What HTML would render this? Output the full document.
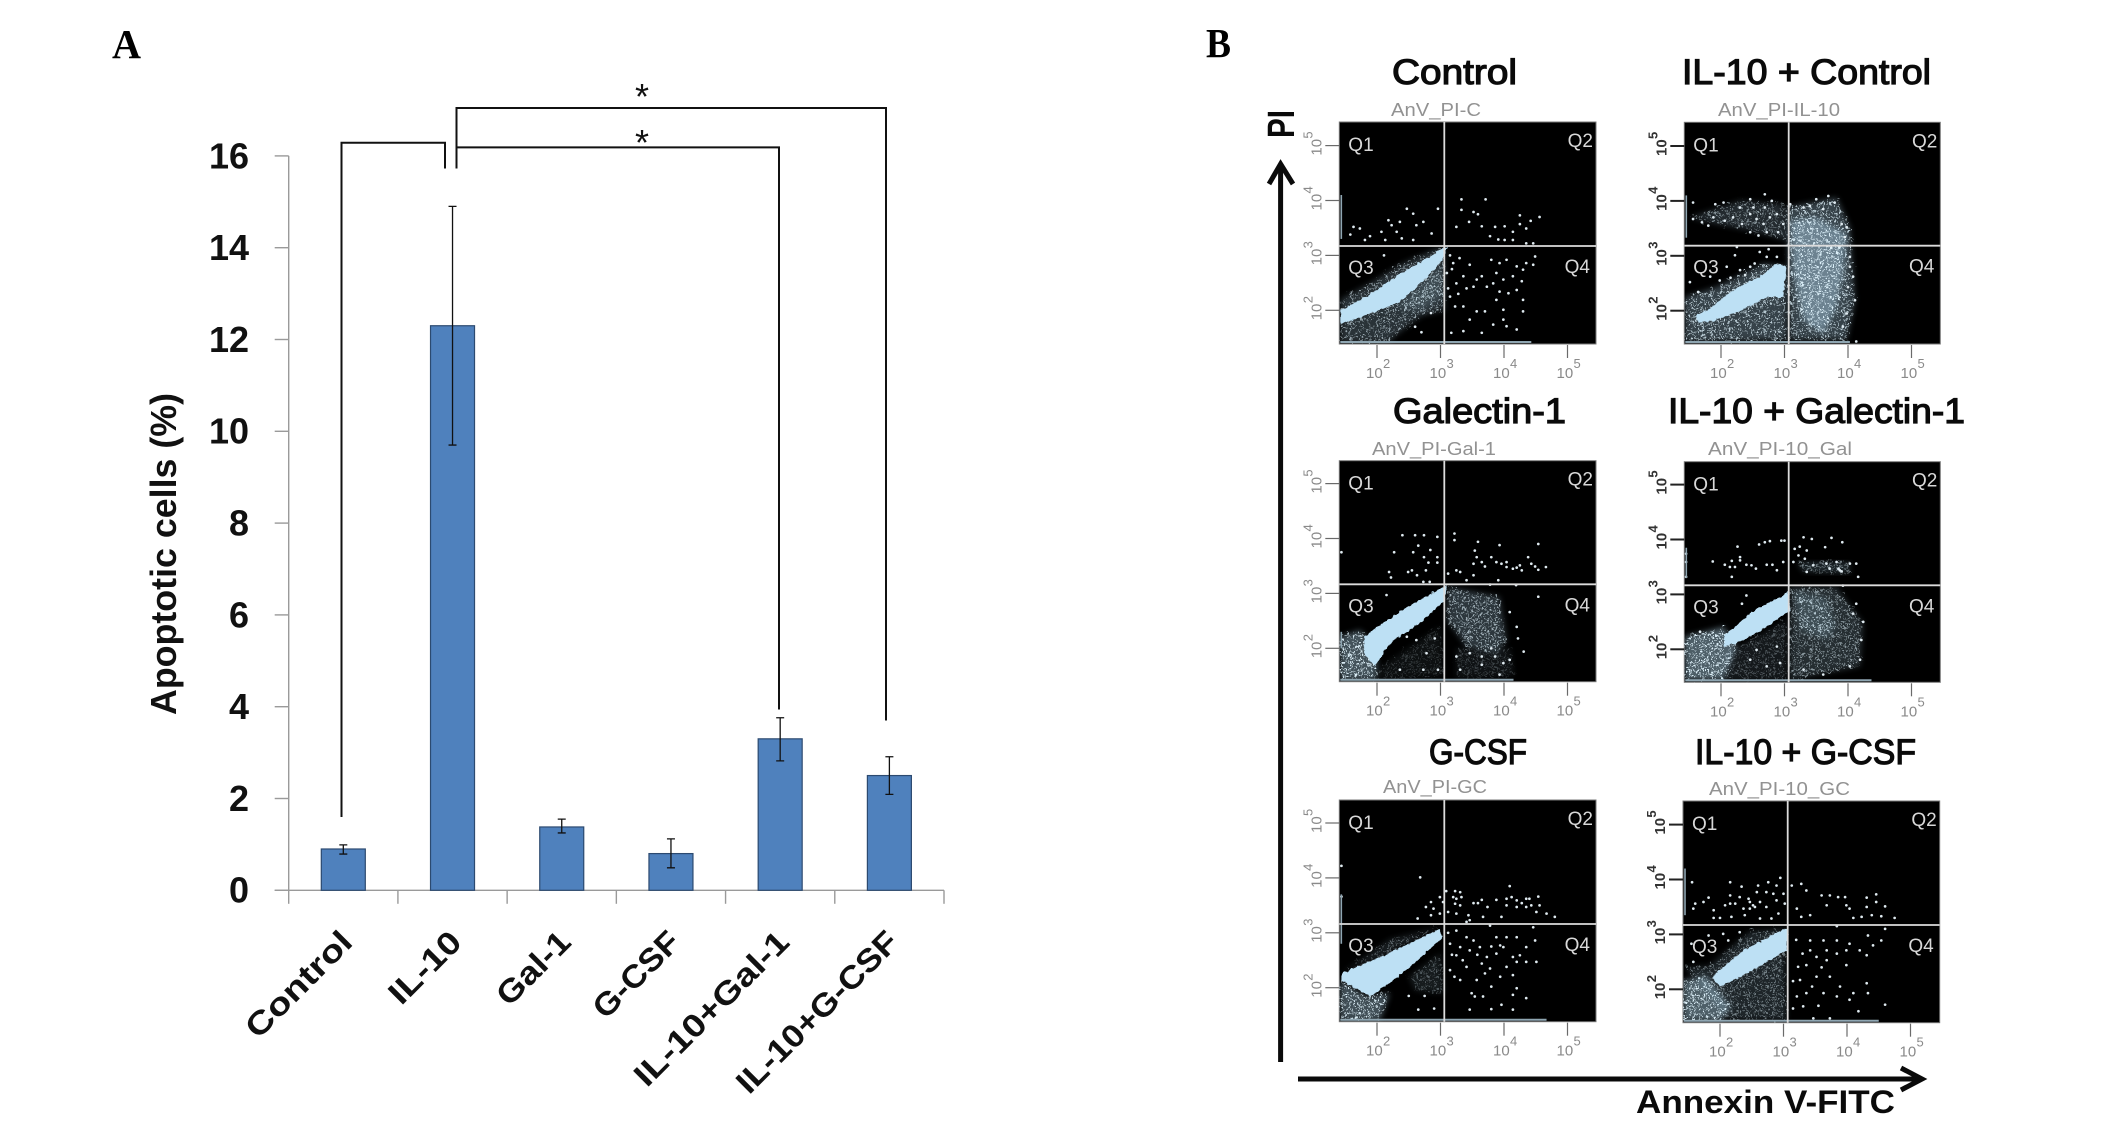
<!DOCTYPE html>
<html lang="en">
<head>
<meta charset="utf-8">
<title>Apoptotic cells and flow cytometry panels</title>
<style>
html,body{margin:0;padding:0;background:#fff;}
svg{display:block;}
text{font-family:"Liberation Sans",sans-serif;}
.panel-letter{font-family:"Liberation Serif",serif;font-weight:bold;font-size:41px;fill:#000;}
.ttl{font-size:35px;fill:#0a0a0a;stroke:#0a0a0a;stroke-width:1.2px;}
.sub{font-size:18px;fill:#929292;}
</style>
</head>
<body>
<svg id="fig" xmlns="http://www.w3.org/2000/svg" width="2126" height="1143" viewBox="0 0 2126 1143">
<defs>
<pattern id="speckle" width="9" height="9" patternUnits="userSpaceOnUse">
<circle cx="1.5" cy="2" r="1.1" fill="#dcefF8"/><circle cx="6" cy="0.8" r="1" fill="#dcefF8"/><circle cx="4" cy="5" r="1.1" fill="#dcefF8"/><circle cx="8" cy="6" r="1" fill="#dcefF8"/><circle cx="1.2" cy="7.6" r="1" fill="#dcefF8"/>
</pattern>
<filter id="softEdge" x="-20%" y="-20%" width="140%" height="140%"><feGaussianBlur stdDeviation="3"/></filter>
<filter id="roughEdge" x="-20%" y="-20%" width="140%" height="140%">
<feTurbulence type="fractalNoise" baseFrequency="0.22" numOctaves="2" seed="4" result="n"/>
<feDisplacementMap in="SourceGraphic" in2="n" scale="13" xChannelSelector="R" yChannelSelector="G"/>
</filter>
<filter id="bandEdge" x="-10%" y="-10%" width="120%" height="120%">
<feTurbulence type="fractalNoise" baseFrequency="0.3" numOctaves="1" seed="9" result="n"/>
<feDisplacementMap in="SourceGraphic" in2="n" scale="4" xChannelSelector="R" yChannelSelector="G"/>
</filter>
</defs>
<rect x="0" y="0" width="2126" height="1143" fill="#fff"/>

<text class="panel-letter" x="112" y="58" textLength="29" lengthAdjust="spacingAndGlyphs">A</text>
<text class="panel-letter" x="1206" y="57" textLength="25" lengthAdjust="spacingAndGlyphs">B</text>

<g id="barChart"></g>

<text x="176" y="715" transform="rotate(-90 176 715)" font-size="36" font-weight="bold" fill="#111" textLength="322" lengthAdjust="spacingAndGlyphs">Apoptotic cells (%)</text>

<g fill="none" stroke="#111" stroke-width="2">
<path d="M341.5 817 V142.8 H445 V168.5"/>
<path d="M456.5 168.5 V108 H886 V720.5"/>
<path d="M456.5 147.4 H779 V709.5"/>
</g>
<text x="642" y="109" text-anchor="middle" font-size="36" fill="#111">*</text>
<text x="642" y="155" text-anchor="middle" font-size="36" fill="#111">*</text>

<text class="ttl" x="1392" y="84" textLength="125" lengthAdjust="spacingAndGlyphs">Control</text>
<text class="ttl" x="1682" y="84" textLength="249" lengthAdjust="spacingAndGlyphs">IL-10 + Control</text>
<text class="ttl" x="1393" y="423" textLength="173" lengthAdjust="spacingAndGlyphs">Galectin-1</text>
<text class="ttl" x="1668" y="423" textLength="297" lengthAdjust="spacingAndGlyphs">IL-10 + Galectin-1</text>
<text class="ttl" x="1429" y="764" textLength="98" lengthAdjust="spacingAndGlyphs">G-CSF</text>
<text class="ttl" x="1695" y="764" textLength="221" lengthAdjust="spacingAndGlyphs">IL-10 + G-CSF</text>

<text class="sub" x="1391" y="116" textLength="90" lengthAdjust="spacingAndGlyphs">AnV_PI-C</text>
<text class="sub" x="1718" y="116" textLength="122" lengthAdjust="spacingAndGlyphs">AnV_PI-IL-10</text>
<text class="sub" x="1372" y="455" textLength="124" lengthAdjust="spacingAndGlyphs">AnV_PI-Gal-1</text>
<text class="sub" x="1708" y="455" textLength="144" lengthAdjust="spacingAndGlyphs">AnV_PI-10_Gal</text>
<text class="sub" x="1383" y="793" textLength="104" lengthAdjust="spacingAndGlyphs">AnV_PI-GC</text>
<text class="sub" x="1709" y="795" textLength="141" lengthAdjust="spacingAndGlyphs">AnV_PI-10_GC</text>

<g id="flowPanels"></g>

<g fill="none" stroke="#0a0a0a">
<path d="M1280.6 1062 V164" stroke-width="5"/>
<path d="M1269 184 L1280.6 164 L1293 184" stroke-width="5"/>
<path d="M1298 1079 H1921" stroke-width="5"/>
<path d="M1901 1068 L1922 1079 L1901 1090" stroke-width="5"/>
</g>
<text x="1294" y="138" transform="rotate(-90 1294 138)" font-size="38" font-weight="bold" fill="#0a0a0a" textLength="28" lengthAdjust="spacingAndGlyphs">PI</text>
<text x="1636" y="1113" font-size="32" font-weight="bold" fill="#0a0a0a" textLength="259" lengthAdjust="spacingAndGlyphs">Annexin V-FITC</text>
</svg>

<script>
/* ---------- Bar chart data ---------- */
const categories = ['Control', 'IL-10', 'Gal-1', 'G-CSF', 'IL-10+Gal-1', 'IL-10+G-CSF'];
const apoptoticValues = [0.9, 12.3, 1.38, 0.8, 3.3, 2.5];
const errorHigh = [0.99, 14.9, 1.55, 1.12, 3.76, 2.91];
const errorLow = [0.79, 9.7, 1.25, 0.49, 2.82, 2.09];
const yTickLabels = [0, 2, 4, 6, 8, 10, 12, 14, 16];

/* ---------- Flow cytometry data, all in log10 fluorescence units [annexin, PI] ---------- */
const xDecades = [2, 3, 4, 5];
const yDecades = [2, 3, 4, 5];
const quadrantLabels = ['Q1', 'Q2', 'Q3', 'Q4'];

const controlBand = [[1.43,2.0],[1.84,2.25],[2.36,2.66],[2.89,3.02],[3.1,3.17],[3.05,2.95],[2.89,2.72],[2.36,2.15],[1.84,1.92],[1.43,1.75]];
const controlRegions = [
  [[1.43,1.42],[1.43,2.2],[1.9,2.5],[2.4,2.85],[3.0,3.15],[3.06,3.1],[3.06,2.0],[2.7,1.9],[2.3,1.55],[2.2,1.42]],
  [[2.3,2.05],[3.05,2.85],[3.05,2.25],[2.7,2.0]]
];
const controlDensity = [0.38, 0.25];
const controlEdges = [4.43, 3.3, 4.1];
const controlDots = [[1.63,3.52],[1.73,3.49],[1.58,3.38],[1.89,3.35],[1.81,3.28],[2.07,3.43],[2.18,3.64],[2.23,3.55],[2.36,3.61],[2.47,3.85],[2.57,3.76],[2.62,3.55],[2.73,3.61],[2.86,3.4],[2.96,3.85],[2.31,3.43],[2.13,3.28],[2.57,3.28],[2.39,3.31],[3.33,4.02],[3.71,4.02],[3.33,3.83],[3.52,3.79],[3.59,3.75],[3.25,3.52],[3.45,3.61],[3.65,3.53],[3.86,3.52],[4.01,3.53],[4.25,3.73],[4.42,3.63],[4.56,3.7],[4.35,3.49],[4.14,3.43],[4.25,3.57],[3.78,3.35],[3.91,3.29],[4.01,3.28],[4.14,3.28],[4.35,3.22],[4.46,3.22],[3.8,2.92],[3.93,2.86],[4.04,2.92],[4.2,2.8],[4.35,2.86],[4.49,2.98],[4.46,2.83],[4.3,2.74],[3.88,2.68],[3.99,2.56],[4.14,2.62],[4.28,2.53],[3.83,2.49],[3.93,2.34],[4.07,2.31],[4.2,2.37],[4.3,2.19],[3.99,2.01],[4.3,1.98],[4.2,1.65],[4.04,1.71],[3.83,1.74],[3.7,1.98],[3.57,1.98],[3.36,2.07],[3.23,2.07],[3.46,1.83],[3.36,1.62],[3.65,1.59],[3.46,2.83],[3.36,2.62],[3.2,2.86],[3.57,2.56],[3.65,2.62],[3.41,2.4],[3.52,2.43],[3.15,2.25],[3.25,2.49],[3.1,2.68],[3.17,1.59],[3.99,1.83],[3.73,2.43],[3.88,2.19],[3.15,3.0],[3.3,2.95],[3.12,2.4],[3.18,2.75],[3.28,2.3],[2.11,3.0],[2.6,1.7],[2.85,1.95],[2.7,1.6]];

const il10ControlBand = [[1.6,1.9],[1.83,2.05],[2.19,2.37],[2.61,2.62],[2.88,2.86],[3.03,2.8],[2.98,2.25],[2.72,2.25],[2.35,2.02],[1.88,1.82],[1.65,1.78]];
const il10ControlRegions = [
  [[1.43,2.25],[1.93,2.43],[2.67,2.86],[3.03,2.8],[3.03,1.47],[1.43,1.44]],
  [[3.03,3.88],[3.82,4.06],[4.03,3.52],[4.11,2.19],[3.98,1.47],[3.09,1.47]],
  [[3.09,3.64],[3.5,3.7],[3.98,3.4],[3.92,2.67],[3.82,2.07],[3.61,1.59],[3.3,1.83],[3.14,2.68]],
  [[1.51,3.7],[2.3,4.0],[2.98,3.94],[3.03,3.28],[2.46,3.46],[1.93,3.58]]
];
const il10ControlDensity = [0.5, 0.5, 0.7, 0.32];
const il10ControlEdges = [4.03, 3.33, 4.1];
const il10ControlDots = [[1.56,3.97],[1.91,3.94],[2.04,3.97],[2.3,3.88],[2.46,4.03],[2.69,4.12],[2.8,4.0],[2.51,3.88],[2.69,3.88],[1.56,3.67],[1.7,3.61],[1.8,3.55],[1.88,3.7],[2.06,3.64],[2.19,3.7],[2.33,3.58],[2.46,3.76],[2.56,3.67],[2.67,3.58],[2.77,3.7],[2.88,3.76],[2.59,3.37],[2.72,3.43],[2.46,3.43],[2.98,3.58],[2.9,3.43],[3.09,3.94],[3.3,3.88],[3.5,4.03],[3.69,4.09],[3.79,3.97],[3.4,3.91],[3.61,3.85],[3.98,3.52],[3.9,3.58],[3.95,3.34],[4.03,2.98],[4.08,2.62],[4.11,2.19],[3.98,1.95],[3.92,1.71],[4.13,1.44],[4.03,2.8],[4.0,2.43],[2.25,3.16],[2.72,2.98],[2.61,3.07],[2.22,3.01],[2.46,2.8],[2.53,2.86],[2.09,2.8],[2.3,2.74],[1.51,2.52],[1.64,2.34],[1.83,2.62],[2.88,2.98],[2.15,2.6],[2.38,2.65],[1.98,2.55],[2.75,3.12]];

const galectinBand = [[1.79,2.21],[2.31,2.63],[2.99,3.09],[3.1,3.15],[3.07,2.88],[2.73,2.51],[2.2,2.09],[1.97,1.67],[1.79,1.91]];
const galectinRegions = [
  [[1.42,2.21],[1.73,2.33],[2.0,2.03],[2.0,1.43],[1.42,1.43]],
  [[3.12,3.12],[3.93,2.94],[4.04,2.15],[3.88,1.91],[3.41,2.03],[3.1,2.51]],
  [[3.25,2.0],[4.1,2.0],[4.15,1.5],[3.25,1.45]],
  [[2.05,1.65],[2.99,2.4],[3.05,1.5],[2.05,1.43]]
];
const galectinDensity = [0.62, 0.42, 0.14, 0.12];
const galectinEdges = [4.15, 2.3, 2.0];
const galectinDots = [[2.4,4.06],[2.6,4.06],[2.74,4.06],[2.95,4.03],[2.65,3.87],[2.27,3.75],[2.57,3.75],[2.84,3.79],[2.74,3.66],[2.95,3.66],[2.81,3.56],[2.95,3.56],[2.77,3.42],[2.49,3.39],[2.55,3.42],[2.63,3.33],[2.19,3.39],[2.22,3.29],[1.44,3.75],[2.73,3.21],[2.83,3.21],[3.22,4.09],[3.22,3.97],[3.59,3.94],[3.93,3.88],[4.54,3.9],[3.54,3.78],[3.57,3.66],[3.65,3.57],[3.8,3.66],[3.52,3.54],[3.7,3.49],[3.88,3.57],[3.96,3.54],[4.04,3.57],[4.04,3.48],[4.14,3.45],[4.25,3.51],[4.28,3.42],[4.38,3.66],[4.43,3.54],[4.49,3.49],[4.54,3.43],[4.66,3.48],[4.2,3.47],[3.25,3.42],[3.31,3.39],[3.12,3.36],[3.52,3.33],[3.41,3.24],[3.91,3.24],[4.2,2.39],[4.22,2.18],[4.31,1.94],[4.09,1.79],[4.54,2.94],[4.19,3.15],[3.78,3.16],[4.09,2.66],[3.31,1.61],[3.65,1.7],[3.93,1.52],[3.46,1.91],[3.65,1.85],[3.8,2.0],[3.99,1.73],[3.86,1.85],[3.25,1.85],[2.36,1.61],[2.73,1.61],[2.96,1.61],[2.15,2.97],[2.78,1.91],[2.91,2.18],[2.62,2.15],[2.47,2.21]];

const il10GalectinBand = [[2.04,2.23],[2.51,2.71],[2.98,2.98],[3.06,3.07],[3.09,2.71],[2.72,2.41],[2.25,2.11],[2.06,2.05]];
const il10GalectinRegions = [
  [[1.43,2.23],[2.04,2.41],[2.25,2.05],[2.04,1.44],[1.43,1.44]],
  [[3.09,3.13],[3.82,3.13],[4.24,2.47],[4.19,1.69],[3.09,1.44],[3.09,2.53]],
  [[3.14,3.07],[3.66,2.95],[3.82,2.4],[3.66,2.17],[3.25,2.35]],
  [[3.19,3.59],[4.03,3.59],[4.03,3.38],[3.3,3.41]],
  [[2.09,1.93],[3.03,2.53],[3.03,1.44],[2.04,1.44]]
];
const il10GalectinDensity = [0.72, 0.34, 0.3, 0.3, 0.18];
const il10GalectinEdges = [4.37, 3.85, 3.3];
const il10GalectinDots = [[2.26,3.87],[2.6,3.91],[2.69,3.95],[2.77,3.97],[2.95,3.98],[3.0,3.98],[2.3,3.68],[2.17,3.61],[2.3,3.62],[1.87,3.6],[2.06,3.54],[2.14,3.5],[2.22,3.5],[2.4,3.54],[2.48,3.53],[2.55,3.47],[2.72,3.54],[2.81,3.54],[2.88,3.44],[2.98,3.59],[2.17,3.32],[1.45,3.74],[1.45,3.59],[1.45,3.32],[3.3,4.04],[3.43,4.01],[3.74,4.03],[3.91,3.95],[3.64,3.86],[3.24,3.87],[3.16,3.83],[3.35,3.8],[3.22,3.71],[3.32,3.65],[3.14,3.59],[3.45,3.53],[3.66,3.56],[3.82,3.59],[3.87,3.44],[3.85,3.47],[3.9,3.42],[4.03,3.56],[4.13,3.56],[4.16,3.32],[3.35,3.41],[3.71,3.47],[3.92,3.16],[4.24,2.5],[4.21,2.17],[4.19,1.81],[4.03,1.69],[3.61,1.54],[3.3,1.63],[4.13,2.83],[4.08,2.65],[2.4,2.98],[2.33,2.83],[2.72,1.69],[2.93,1.75],[2.46,1.81],[2.56,1.99],[2.88,2.05],[1.67,2.32]];

const gcsfBand = [[1.44,2.26],[2.05,2.56],[2.99,3.07],[3.04,2.92],[2.52,2.38],[2.2,2.08],[1.89,1.84],[1.44,2.14]];
const gcsfRegions = [
  [[1.42,2.14],[1.84,1.84],[2.2,1.9],[2.05,1.41],[1.42,1.41]],
  [[2.5,2.2],[3.0,2.62],[3.05,1.9],[2.6,1.95]],
  [[1.44,2.26],[2.2,2.88],[2.99,3.1],[2.05,2.56]]
];
const gcsfDensity = [0.6, 0.2, 0.22];
const gcsfEdges = [4.67, 2.8, 3.7];
const gcsfDots = [[1.44,4.22],[2.68,4.01],[1.44,3.66],[2.64,3.26],[2.77,3.47],[2.85,3.56],[2.89,3.44],[2.99,3.65],[3.04,3.56],[2.85,3.32],[2.99,3.35],[3.09,3.76],[3.23,3.76],[3.31,3.74],[3.2,3.65],[3.25,3.62],[3.33,3.65],[3.23,3.53],[3.31,3.5],[3.12,3.38],[4.09,3.85],[3.52,3.54],[3.59,3.54],[3.65,3.6],[3.74,3.47],[3.88,3.6],[4.04,3.62],[4.12,3.65],[4.2,3.59],[4.28,3.54],[4.35,3.62],[4.4,3.62],[4.43,3.5],[4.35,3.47],[4.54,3.66],[4.56,3.5],[4.51,3.38],[4.67,3.35],[4.8,3.29],[4.04,3.5],[4.2,3.47],[3.44,3.32],[3.46,3.23],[3.67,3.29],[3.96,3.29],[3.25,3.35],[3.41,3.2],[3.25,3.04],[3.41,2.92],[3.52,2.86],[3.31,2.74],[3.46,2.68],[3.25,2.59],[3.15,2.8],[3.62,2.74],[3.73,2.56],[3.65,2.44],[3.78,2.35],[3.7,2.26],[3.88,2.92],[3.94,2.77],[4.04,2.92],[4.2,2.92],[3.88,2.62],[3.99,2.74],[4.14,2.56],[4.25,2.59],[4.35,2.74],[4.49,2.86],[4.51,2.47],[4.35,2.47],[4.2,2.47],[4.04,2.38],[4.14,2.23],[3.94,2.2],[3.8,2.02],[4.2,1.99],[4.14,1.87],[4.35,1.81],[3.67,1.84],[3.54,1.84],[3.46,1.6],[3.8,1.61],[3.96,1.69],[4.14,1.6],[3.31,2.14],[3.15,2.32],[3.41,2.38],[3.57,2.14],[3.49,1.9],[4.46,3.1],[3.78,3.13],[3.18,2.6],[3.35,2.5],[3.58,2.6],[3.8,2.75],[3.12,3.0],[3.22,2.2],[2.5,1.85],[2.75,1.85],[2.9,1.62],[2.65,1.6]];

const il10GcsfBand = [[1.9,2.26],[2.37,2.71],[3.0,3.1],[3.07,3.1],[3.05,2.71],[2.52,2.35],[2.0,2.05],[1.9,2.17]];
const il10GcsfRegions = [
  [[1.42,2.17],[1.79,2.23],[2.16,1.69],[2.05,1.43],[1.42,1.43]],
  [[1.45,2.4],[1.82,2.42],[2.47,3.05],[3.0,3.1],[3.05,1.45],[2.16,1.45]],
];
const il10GcsfDensity = [0.72, 0.28];
const il10GcsfEdges = [4.5, 3.35, 4.2];
const il10GcsfDots = [[1.56,3.95],[2.16,3.95],[2.34,3.87],[2.6,3.89],[2.76,3.95],[2.95,4.03],[2.89,3.89],[2.16,3.71],[2.58,3.77],[2.73,3.77],[2.84,3.74],[3.0,3.74],[1.61,3.56],[1.74,3.59],[1.82,3.67],[1.58,3.47],[1.9,3.44],[2.08,3.53],[2.16,3.56],[2.24,3.56],[2.37,3.47],[2.47,3.59],[2.55,3.5],[2.63,3.59],[2.73,3.5],[2.89,3.62],[3.02,3.56],[1.9,3.3],[2.0,3.3],[2.18,3.32],[2.39,3.35],[2.47,3.47],[2.52,3.53],[2.63,3.29],[2.81,3.29],[2.92,3.38],[2.31,3.68],[2.45,3.65],[3.13,3.89],[3.28,3.92],[3.36,3.8],[3.21,3.47],[3.6,3.71],[3.73,3.71],[3.86,3.68],[3.97,3.68],[3.68,3.53],[3.99,3.53],[4.04,3.47],[4.31,3.67],[4.46,3.73],[4.46,3.59],[4.6,3.51],[4.31,3.5],[4.23,3.32],[4.39,3.35],[4.54,3.33],[4.75,3.3],[4.1,3.3],[3.42,3.35],[3.28,3.32],[3.42,2.89],[3.63,2.89],[3.84,2.89],[4.04,2.83],[4.2,2.71],[4.31,2.62],[4.41,2.8],[4.54,2.89],[4.6,3.1],[4.33,2.98],[3.52,2.59],[3.68,2.53],[3.84,2.65],[3.99,2.44],[3.36,2.44],[3.26,2.17],[3.52,2.23],[3.73,2.23],[3.89,2.05],[4.1,1.93],[4.31,2.11],[4.33,1.93],[4.6,1.72],[4.18,1.6],[3.73,1.47],[3.47,1.47],[3.36,1.93],[3.21,1.87],[3.63,1.93],[3.84,1.87],[4.04,1.81],[3.23,2.41],[3.42,2.71],[3.68,2.71],[3.99,2.71],[3.31,1.69],[3.84,3.15],[2.05,3.01],[2.31,3.04],[1.58,2.5],[2.13,2.89],[1.55,2.83],[1.82,2.98],[3.2,2.9],[3.3,2.65],[3.15,2.15],[3.45,2.05],[3.6,2.4],[3.15,1.65],[3.55,1.7]];

/* ---------- Layout (not data) ---------- */
const plotRect = [
  {l:1339.3,r:1596,t:122,b:344,x2:1377,y2:310.3,gx:1444.3,gy:246,strong:false},
  {l:1684.3,r:1940.3,t:122.3,b:344,x2:1721,y2:310.7,gx:1788.7,gy:245.7,strong:true},
  {l:1339.3,r:1596,t:460.7,b:681.7,x2:1377,y2:648.3,gx:1444.3,gy:584.3,strong:false},
  {l:1684.3,r:1940.3,t:461.7,b:682.3,x2:1721,y2:649.3,gx:1788.7,gy:585.3,strong:true},
  {l:1339.3,r:1596,t:800,b:1021.7,x2:1377,y2:987.7,gx:1444.3,gy:924,strong:false},
  {l:1683,r:1939.7,t:801,b:1022.7,x2:1720,y2:989.3,gx:1787.7,gy:925,strong:true}
];
const NS = 'http://www.w3.org/2000/svg';

function svgEl(tag, attrs, parent) {
  const el = document.createElementNS(NS, tag);
  for (const k in attrs) el.setAttribute(k, attrs[k]);
  parent.appendChild(el);
  return el;
}

/* ---------- Bar chart ---------- */
const barGroup = document.getElementById('barChart');
const axisLeft = 288.7, axisRight = 944, axisZero = 890.3, pxPerUnit = 45.9;
const yScale = v => axisZero - v * pxPerUnit;
const bandWidth = (axisRight - axisLeft) / categories.length;
const xCenter = i => axisLeft + bandWidth * (i + 0.5);
const barWidth = 44;
const labelLengths = [136, 88, 90, 108, 204, 214];

const yAxisLine = svgEl('line', {x1:axisLeft, x2:axisLeft, y1:yScale(16), y2:axisZero, stroke:'#9a9a9a', 'stroke-width':1.4}, barGroup);


yTickLabels.forEach(t => {
  const tick = svgEl('line', {x1:axisLeft - 14, x2:axisLeft, y1:yScale(t), y2:yScale(t), stroke:'#9a9a9a', 'stroke-width':1.4}, barGroup);
  
  
  const lab = svgEl('text', {x:249, y:yScale(t) + 12.4, 'text-anchor':'end', 'font-size':36, 'font-weight':'bold', fill:'#111'}, barGroup);
  
  
  lab.textContent = t;
});
const xAxisLine = svgEl('line', {x1:axisLeft - 14, x2:axisRight, y1:axisZero, y2:axisZero, stroke:'#9a9a9a', 'stroke-width':1.4}, barGroup);


for (let i = 0; i <= categories.length; i++) {
  const tx = axisLeft + bandWidth * i;
  const tick = svgEl('line', {x1:tx, x2:tx, y1:axisZero, y2:axisZero + 13.5, stroke:'#9a9a9a', 'stroke-width':1.4}, barGroup);
  
  
}
categories.forEach((c, i) => {
  const cx = xCenter(i);
  const bar = svgEl('rect', {x:cx - barWidth / 2, y:yScale(apoptoticValues[i]), width:barWidth, height:axisZero - yScale(apoptoticValues[i]), fill:'#4f81bd', stroke:'#2c4a70', 'stroke-width':1.2}, barGroup);
  
  
  const whisker = svgEl('path', {d:`M${cx - 4} ${yScale(errorHigh[i])} H${cx + 4} M${cx} ${yScale(errorHigh[i])} V${yScale(errorLow[i])} M${cx - 4} ${yScale(errorLow[i])} H${cx + 4}`, fill:'none', stroke:'#111', 'stroke-width':1.3}, barGroup);
  
  
  const ax = cx + 11, ay = 944;
  const lab = svgEl('text', {x:ax, y:ay, 'text-anchor':'end', 'font-size':32, 'font-weight':'bold', fill:'#111', transform:`rotate(-45 ${ax} ${ay})`, textLength:labelLengths[i], lengthAdjust:'spacingAndGlyphs'}, barGroup);
  
  
  lab.textContent = c;
});

/* ---------- Flow panels ---------- */
const flowGroup = document.getElementById('flowPanels');
const fig = document.getElementById('fig');
const panelBands = [controlBand, il10ControlBand, galectinBand, il10GalectinBand, gcsfBand, il10GcsfBand];
const panelRegions = [controlRegions, il10ControlRegions, galectinRegions, il10GalectinRegions, gcsfRegions, il10GcsfRegions];
const panelDensity = [controlDensity, il10ControlDensity, galectinDensity, il10GalectinDensity, gcsfDensity, il10GcsfDensity];
const panelEdges = [controlEdges, il10ControlEdges, galectinEdges, il10GalectinEdges, gcsfEdges, il10GcsfEdges];
const panelDots = [controlDots, il10ControlDots, galectinDots, il10GalectinDots, gcsfDots, il10GcsfDots];

plotRect.forEach((p, i) => {
  const sx = v => p.x2 + (v - 2) * 63.5;
  const sy = v => p.y2 - (v - 2) * 54.9;
  const pts = arr => arr.map(d => sx(d[0]) + ',' + sy(d[1])).join(' ');
  const g = svgEl('g', {}, flowGroup);
  
  

  const clip = svgEl('clipPath', {id:'plotClip' + i}, fig.querySelector('defs'));
  svgEl('rect', {x:p.l, y:p.t, width:p.r - p.l, height:p.b - p.t}, clip);

  const frame = svgEl('rect', {x:p.l, y:p.t, width:p.r - p.l, height:p.b - p.t, fill:'#000', stroke:'#777', 'stroke-width':1}, g);
  
  

  const clipped = svgEl('g', {'clip-path':'url(#plotClip' + i + ')'}, g);
  
  

  panelRegions[i].forEach((r, k) => {
    const tone = svgEl('polygon', {points:pts(r), fill:'#b4dcf2', 'fill-opacity':panelDensity[i][k] * 0.6, filter:'url(#softEdge)'}, clipped);
    
    
    const spk = svgEl('polygon', {points:pts(r), fill:'url(#speckle)', 'fill-opacity':Math.min(1, panelDensity[i][k] * 1.6), filter:'url(#roughEdge)'}, clipped);
    
    
  });
  const band = svgEl('polygon', {points:pts(panelBands[i]), fill:'#bde0f4', filter:'url(#bandEdge)'}, clipped);
  
  

  panelDots[i].forEach(d => {
    const dot = svgEl('circle', {cx:sx(d[0]), cy:sy(d[1]), r:1.35, fill:'#dfeaf0'}, clipped);
    
    
  });

  const bottom = svgEl('line', {x1:p.l + 1, x2:sx(panelEdges[i][0]), y1:p.b - 2, y2:p.b - 2, stroke:'#8fa6b2', 'stroke-width':2}, g);
  
  
  const leftEdge = svgEl('line', {x1:p.l + 2, x2:p.l + 2, y1:sy(panelEdges[i][2]), y2:sy(panelEdges[i][1]), stroke:'#8fa6b2', 'stroke-width':1.6}, g);
  
  

  const gateV = svgEl('line', {x1:p.gx, x2:p.gx, y1:p.t, y2:p.b, stroke:'#dcdcdc', 'stroke-width':1.8}, g);
  
  
  const gateH = svgEl('line', {x1:p.l, x2:p.r, y1:p.gy, y2:p.gy, stroke:'#dcdcdc', 'stroke-width':1.8}, g);
  
  

  const qPos = [[p.l + 9, p.t + 29, 'start'], [p.r - 3, p.t + 25, 'end'], [p.l + 9, p.gy + 28, 'start'], [p.r - 6, p.gy + 27, 'end']];
  quadrantLabels.forEach((q, k) => {
    const t = svgEl('text', {x:qPos[k][0], y:qPos[k][1], 'text-anchor':qPos[k][2], 'font-size':19, fill:'#d8d8d8'}, g);
    
    
    t.textContent = q;
  });

  const tickColor = p.strong ? '#222' : '#6a6a6a';
  const tickW = p.strong ? 2 : 1.2;
  const labColor = p.strong ? '#333' : '#8a8a8a';
  const labWeight = p.strong ? 'bold' : 'normal';
  yDecades.forEach(d => {
    const yy = sy(d);
    const tick = svgEl('line', {x1:p.l - 14, x2:p.l, y1:yy, y2:yy, stroke:tickColor, 'stroke-width':tickW}, g);
    
    
    const bx = p.l - 18, by = yy + 10;
    const base = svgEl('text', {x:bx, y:by, 'font-size':15, fill:labColor, 'font-weight':labWeight, transform:`rotate(-90 ${bx} ${by})`}, g);
    
    
    base.textContent = '10';
    const ex = p.l - 27, ey = yy - 7;
    const exp = svgEl('text', {x:ex, y:ey, 'font-size':13, fill:labColor, 'font-weight':labWeight, transform:`rotate(-90 ${ex} ${ey})`}, g);
    
    
    exp.textContent = d;
  });
  xDecades.forEach(d => {
    const xx = sx(d);
    const tick = svgEl('line', {x1:xx, x2:xx, y1:p.b + 1, y2:p.b + 14, stroke:'#6a6a6a', 'stroke-width':1.2}, g);
    
    
    const base = svgEl('text', {x:xx - 11, y:p.b + 34, 'font-size':15, fill:'#8a8a8a'}, g);
    
    
    base.textContent = '10';
    const exp = svgEl('text', {x:xx + 6, y:p.b + 24, 'font-size':13, fill:'#8a8a8a'}, g);
    
    
    exp.textContent = d;
  });
});
</script>
</body>
</html>
